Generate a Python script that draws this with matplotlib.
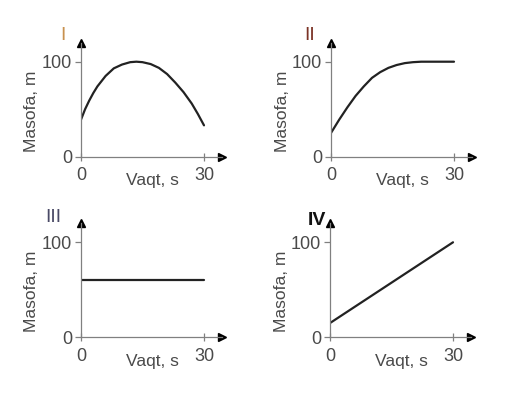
import matplotlib
matplotlib.use("Agg")
import matplotlib.pyplot as plt

plt.rcParams['font.family'] = ['Liberation Sans', 'DejaVu Sans']

# Data
t1 = [0, 1, 2, 3, 4, 6, 8, 10, 12, 13.5, 15, 17, 19, 21, 23, 25, 27, 28.5, 30]
d1 = [39, 50, 59, 67, 74, 85, 93, 97, 99.5, 100, 99.5, 97.5, 93.5, 87, 78, 68, 56, 45, 33]
t2 = [0, 2, 4, 6, 8, 10, 12, 14, 16, 18, 20, 22, 24, 27, 30]
d2 = [25, 39, 52, 64, 74, 83, 89, 93.5, 96.5, 98.5, 99.5, 100, 100, 100, 100]
t3 = [0, 30]
d3 = [60, 60]
t4 = [0, 30]
d4 = [15, 100]

labels = ["I", "II", "III", "IV"]
label_colors = ["#c8914f", "#7b3326", "#4a4a66", "#111111"]
label_weights = ["normal", "normal", "normal", "bold"]
label_offsets = [(-17.7, 121.7), (-21, 121.7), (-27.7, 119.3), (-13.3, 116.6)]
xticks = [0, 30]
yticks = [0, 100]
xlabel = "Vaqt, s"
ylabel = "Masofa, m"

W, H = 511, 397
fig = plt.figure(figsize=(W / 100, H / 100), dpi=100)

origins = [(81, 156.7), (331, 156.7), (81, 337.3), (330, 337.3)]
px_per_t = 123 / 30.0
px_per_d = 95 / 100.0
xmax, ymax = 34.4, 120

series = [(t1, d1), (t2, d2), (t3, d3), (t4, d4)]

for i, ((ox, oy), (tt, dd)) in enumerate(zip(origins, series)):
    wpx = xmax * px_per_t
    hpx = ymax * px_per_d
    ax = fig.add_axes([ox / W, (H - oy) / H, wpx / W, hpx / H])
    ax.set_xlim(0, xmax)
    ax.set_ylim(0, ymax)
    ax.patch.set_alpha(0)
    for s in ['top', 'right']:
        ax.spines[s].set_visible(False)
    for s in ['left', 'bottom']:
        ax.spines[s].set_color('#808080')
        ax.spines[s].set_linewidth(0.9)
    ax.plot(tt, dd, color='#222222', lw=1.6, solid_capstyle='round', solid_joinstyle='round')
    ax.plot(1, 0, '>', color='black', ms=6, transform=ax.get_yaxis_transform(), clip_on=False)
    ax.plot(0, 1, '^', color='black', ms=6, transform=ax.get_xaxis_transform(), clip_on=False)
    ax.set_xticks(xticks)
    ax.set_yticks(yticks)
    ax.tick_params(axis='x', direction='inout', length=6, width=0.9, color='#808080',
                   labelsize=13, labelcolor='#4a4a4a', pad=4.5)
    ax.tick_params(axis='y', direction='out', length=4, width=0.9, color='#808080',
                   labelsize=13, labelcolor='#4a4a4a', pad=2.5)
    ax.annotate(xlabel, xy=(17.4, 0), xycoords='data', xytext=(0, -28.3),
                textcoords='offset pixels', ha='center', va='baseline',
                fontsize=12.5, color='#4a4a4a')
    ax.annotate(ylabel, xy=(0, 48), xycoords='data', xytext=(-49, 0),
                textcoords='offset pixels', ha='center', va='center', rotation=90,
                fontsize=12.5, color='#4a4a4a')
    dx, dy = label_offsets[i]
    ax.annotate(labels[i], xy=(0, 0), xycoords='data', xytext=(dx, dy),
                textcoords='offset pixels', ha='center', va='center',
                fontsize=14, color=label_colors[i], fontweight=label_weights[i])

fig.savefig("out.png", dpi=100)
